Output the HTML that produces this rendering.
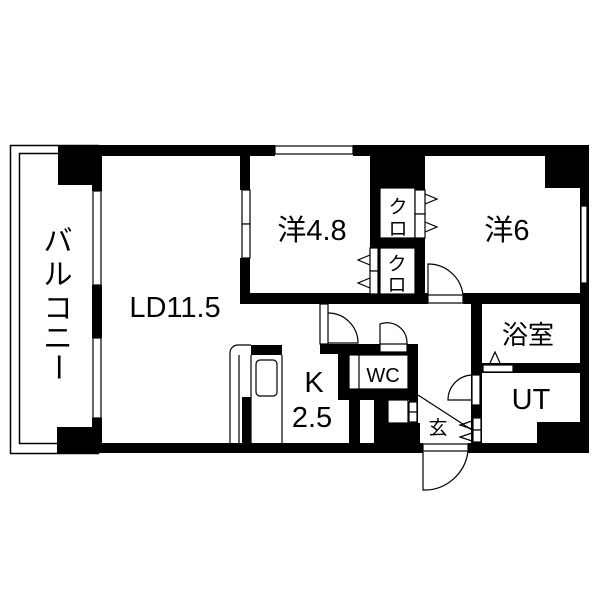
<!DOCTYPE html>
<html><head><meta charset="utf-8"><style>
html,body{margin:0;padding:0;background:#fff;width:600px;height:600px;overflow:hidden}
svg{display:block}
text{font-family:"Liberation Sans","Noto Sans CJK JP",sans-serif;fill:#000}
</style></head><body>
<svg width="600" height="600" viewBox="0 0 600 600" xmlns="http://www.w3.org/2000/svg">
<rect width="600" height="600" fill="#fff"/>
<rect x="10.5" y="145.5" width="88" height="308" fill="none" stroke="#000" stroke-width="1.5"/>
<rect x="19.5" y="153.5" width="78" height="290" fill="none" stroke="#000" stroke-width="1.5"/>
<g fill="#000">
<rect x="58" y="145" width="44" height="40"/>
<rect x="92" y="145" width="10" height="46"/>
<rect x="57" y="427" width="45" height="26"/>
<rect x="92" y="418" width="10" height="35"/>
<rect x="92" y="285" width="10" height="53"/>
<rect x="92" y="145" width="183" height="11"/>
<rect x="353" y="145" width="236" height="11"/>
<rect x="545" y="145" width="44" height="43"/>
<rect x="580" y="145" width="9" height="308"/>
<rect x="92" y="443" width="331" height="10"/>
<rect x="468" y="443" width="121" height="10"/>
<rect x="537" y="422" width="52" height="31"/>
<rect x="240" y="145" width="10" height="45"/>
<rect x="240" y="258" width="10" height="45"/>
<rect x="240" y="293" width="188" height="11"/>
<rect x="463" y="293" width="126" height="11"/>
<rect x="370" y="145" width="55" height="159"/>
<rect x="471" y="293" width="11" height="160"/>
<rect x="471" y="363" width="118" height="10"/>
<rect x="320" y="344" width="98" height="10"/>
<rect x="338" y="344" width="80" height="56"/>
<rect x="349" y="400" width="11" height="43"/>
<rect x="374" y="400" width="14" height="43"/>
<rect x="374" y="423" width="46" height="20"/>
<rect x="409" y="400" width="9" height="23"/>
<rect x="251" y="345" width="31" height="10"/>
<rect x="242" y="397" width="9" height="46"/>
</g>
<g fill="#fff" stroke="#000" stroke-width="1.2">
<rect x="275" y="146" width="78" height="8"/>
<rect x="93" y="191" width="8" height="94"/>
<rect x="93" y="338" width="8" height="80"/>
<rect x="242" y="190" width="8" height="34"/>
<rect x="242" y="224" width="8" height="34"/>
<rect x="581" y="206" width="6" height="77"/>
<rect x="380" y="188" width="35" height="50"/>
<rect x="415" y="190" width="10" height="24"/>
<rect x="415" y="214" width="10" height="24"/>
<rect x="380" y="248" width="35" height="46"/>
<rect x="370" y="248" width="8" height="23"/>
<rect x="370" y="271" width="8" height="23"/>
<rect x="428" y="295" width="35" height="8"/>
<rect x="320" y="304" width="8" height="40"/>
<rect x="380" y="344" width="27" height="8"/>
<rect x="483" y="365" width="30" height="7"/>
<rect x="472" y="375" width="8" height="30"/>
<rect x="423" y="444" width="45" height="7"/>
<rect x="409" y="402" width="8" height="10"/>
<rect x="409" y="412" width="8" height="10"/>
<rect x="473" y="418" width="8" height="12"/>
<rect x="473" y="430" width="8" height="12"/>
<rect x="349" y="355" width="59" height="34"/>
<rect x="388" y="400" width="20" height="23"/>
</g>
<g fill="none" stroke="#000" stroke-width="1.2">
<line x1="359" y1="355" x2="359" y2="389"/>
<path d="M428 295 V264 A35 35 0 0 1 463 295"/>
<path d="M328 343 H358 A30 30 0 0 0 328 313"/>
<path d="M380 344 V324 A20 20 0 0 1 407 344"/>
<path d="M472 375 A25 25 0 0 0 448 400 H472"/>
<path d="M423 451 V490 A44 44 0 0 0 468 451"/>
<path d="M425 194 L437 199 L425 204"/>
<path d="M425 222 L437 227 L425 232"/>
<path d="M370 255 L358 260 L370 265"/>
<path d="M370 278 L358 283 L370 288"/>
<path d="M490 363 L495 352 L500 363"/>
<path d="M472 421 L460 425 L472 429"/>
<path d="M472 433 L460 437 L472 441"/>
<line x1="418" y1="395" x2="472" y2="430"/>
<path d="M230 443 V353 A8 8 0 0 1 238 345 H251"/>
<line x1="239" y1="355" x2="239" y2="443"/>
<line x1="251" y1="355" x2="251" y2="443"/>
<line x1="282" y1="355" x2="282" y2="443"/>
<rect x="256" y="360" width="21" height="36" rx="4"/>
</g>
<g font-size="29">
<text x="58" y="251" text-anchor="middle">バ</text>
<text x="58" y="284" text-anchor="middle">ル</text>
<text x="58" y="318" text-anchor="middle">コ</text>
<text x="58" y="348" text-anchor="middle">ニ</text>
<text x="0" y="0" text-anchor="middle" transform="translate(48 367) rotate(90)">ー</text>
<text x="175" y="317" text-anchor="middle">LD11.5</text>
<text x="312" y="240" text-anchor="middle">洋4.8</text>
<text x="507" y="240" text-anchor="middle">洋6</text>
<text x="528" y="344" text-anchor="middle" font-size="26">浴室</text>
<text x="531" y="409" text-anchor="middle">UT</text>
<text x="314" y="392" text-anchor="middle">K</text>
<text x="312" y="427" text-anchor="middle">2.5</text>
</g>
<g font-size="19">
<text x="398" y="213" text-anchor="middle">ク</text>
<text x="398" y="235" text-anchor="middle">ロ</text>
<text x="397" y="270" text-anchor="middle">ク</text>
<text x="397" y="291" text-anchor="middle">ロ</text>
<text x="383" y="382" text-anchor="middle" font-size="20">WC</text>
<text x="438" y="434" text-anchor="middle">玄</text>
</g>
</svg>
</body></html>
